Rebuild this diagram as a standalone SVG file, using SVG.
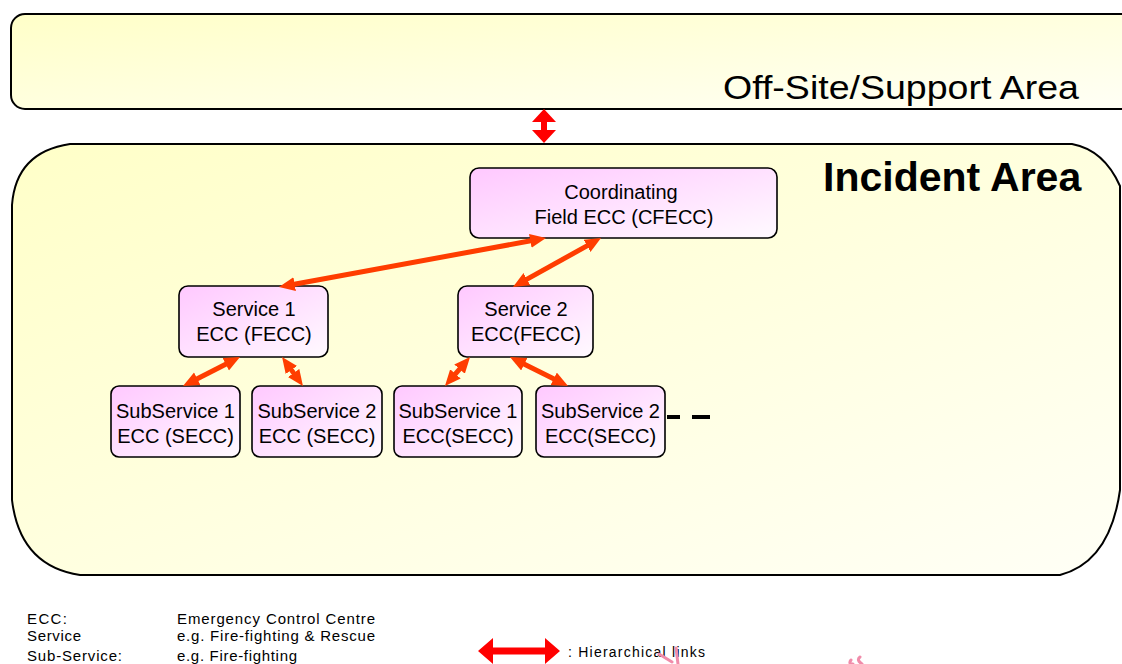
<svg xmlns="http://www.w3.org/2000/svg" width="1122" height="664" viewBox="0 0 1122 664">
<style>
.area{stroke:#000;stroke-width:2;fill:url(#gArea)}
.node{stroke:#000;stroke-width:1.6;fill:url(#gNode)}
.t{font-family:"Liberation Sans",Arial,sans-serif;fill:#000}
.nt{font-size:20px;text-anchor:middle}
.lg{font-size:15px}
.conn{stroke:#FF3D00;stroke-width:5;fill:none;marker-start:url(#ah);marker-end:url(#ah)}
</style>
<defs>
<linearGradient id="gArea" x1="0" y1="0" x2="1" y2="1">
<stop offset="0" stop-color="#FFFFC8"/>
<stop offset="1" stop-color="#FFFFF6"/>
</linearGradient>
<linearGradient id="gNode" x1="0" y1="0" x2="1" y2="1">
<stop offset="0" stop-color="#FFC8FF"/>
<stop offset="1" stop-color="#FFFAFF"/>
</linearGradient>
<marker id="ah" markerUnits="userSpaceOnUse" markerWidth="18" markerHeight="16" refX="6" refY="7" orient="auto-start-reverse">
<path d="M0,0 L16,7 L0,14 z" fill="#FF3D00"/>
</marker>
</defs>
<rect width="1122" height="664" fill="#fff"/>

<g id="offsite">
<rect class="area" x="11" y="14" width="1140" height="95" rx="14" ry="14"/>
<text class="t" x="723" y="99" font-size="33" textLength="356" lengthAdjust="spacingAndGlyphs">Off-Site/Support Area</text>
</g>

<g id="incident">
<path class="area" d="M70,144 L1072,144 Q1104,150 1120,186 L1120,490 Q1110,562 1060,575 L80,575 Q20,566 12,500 L12,205 Q16,152 70,144 Z"/>
<text class="t" x="823" y="191" font-size="41" font-weight="bold">Incident Area</text>
</g>

<g id="link-offsite">
<polygon points="544,109 556,122 547,122 547,130 556,130 544,143 532,130 541,130 541,122 532,122" fill="#FF0000"/>
</g>

<g id="cfecc">
<rect class="node" x="470" y="168" width="307" height="70" rx="9"/>
<text class="t nt" x="621" y="199">Coordinating</text>
<text class="t nt" x="624" y="224">Field ECC (CFECC)</text>
</g>

<g id="service1">
<rect class="node" x="179" y="286" width="149" height="71" rx="9"/>
<text class="t nt" x="254" y="316">Service 1</text>
<text class="t nt" x="254" y="341">ECC (FECC)</text>
</g>

<g id="service2">
<rect class="node" x="458" y="286" width="135" height="71" rx="9"/>
<text class="t nt" x="526" y="316">Service 2</text>
<text class="t nt" x="526" y="341">ECC(FECC)</text>
</g>

<g id="sub1a">
<rect class="node" x="111" y="386" width="129" height="71" rx="8"/>
<text class="t nt" x="175.5" y="418">SubService 1</text>
<text class="t nt" x="175.5" y="443">ECC (SECC)</text>
</g>
<g id="sub2a">
<rect class="node" x="252" y="386" width="130" height="71" rx="8"/>
<text class="t nt" x="317" y="418">SubService 2</text>
<text class="t nt" x="317" y="443">ECC (SECC)</text>
</g>
<g id="sub1b">
<rect class="node" x="394" y="386" width="128" height="71" rx="8"/>
<text class="t nt" x="458" y="418">SubService 1</text>
<text class="t nt" x="458" y="443">ECC(SECC)</text>
</g>
<g id="sub2b">
<rect class="node" x="536" y="386" width="129" height="71" rx="8"/>
<text class="t nt" x="600.5" y="418">SubService 2</text>
<text class="t nt" x="600.5" y="443">ECC(SECC)</text>
</g>
<g id="more">
<rect x="667" y="415" width="13" height="4" fill="#000"/>
<rect x="692" y="415" width="18" height="4" fill="#000"/>
</g>

<g id="connectors">
<line class="conn" x1="536.2" y1="239.8" x2="288.8" y2="285.2"/>
<line class="conn" x1="592.3" y1="242.9" x2="521.7" y2="282.1"/>
<line class="conn" x1="231.1" y1="361.5" x2="191.9" y2="381.5"/>
<line class="conn" x1="287.9" y1="365.1" x2="297.1" y2="377.9"/>
<line class="conn" x1="463.5" y1="364.6" x2="451.5" y2="378.4"/>
<line class="conn" x1="518.9" y1="361.5" x2="559.1" y2="381.5"/>
</g>

<g id="legend">
<text class="t lg" x="27" y="624" textLength="40">ECC:</text>
<text class="t lg" x="27" y="641" textLength="54">Service</text>
<text class="t lg" x="27" y="661" textLength="95">Sub-Service:</text>
<text class="t lg" x="177" y="624" textLength="198">Emergency Control Centre</text>
<text class="t lg" x="177" y="641" textLength="198">e.g. Fire-fighting &amp; Rescue</text>
<text class="t lg" x="177" y="661" textLength="120">e.g. Fire-fighting</text>
<polygon points="478,651 493,638 493,647.5 545,647.5 545,638 560,651 545,664 545,654.5 493,654.5 493,664" fill="#FF0000"/>
<text class="t" x="568" y="657" font-size="14" textLength="137">: Hierarchical links</text>
</g>

<g id="watermark" stroke="#F08CAA" stroke-width="3" fill="none" stroke-linecap="round">
<path d="M659,654 L672,662 M676,648 L678,664"/>
<path d="M851,660 Q848,664 853,664 M860,657 Q856,660 862,664"/>
</g>
</svg>
